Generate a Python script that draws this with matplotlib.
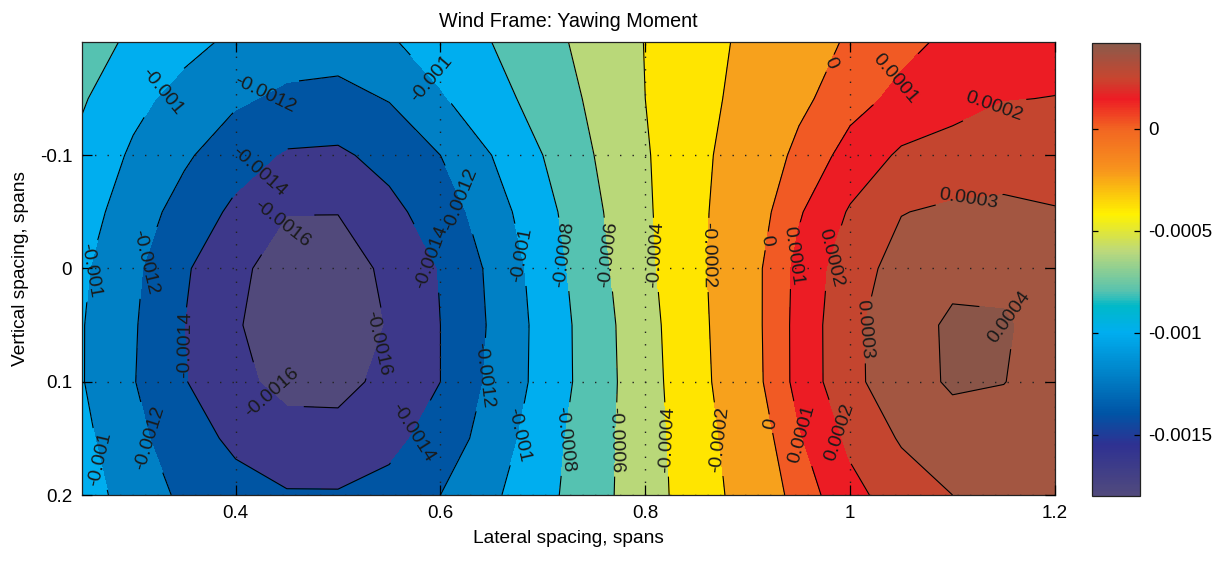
import numpy as np
import matplotlib
matplotlib.use('Agg')
import matplotlib.pyplot as plt
from matplotlib.colors import LinearSegmentedColormap, Normalize
from matplotlib.cm import ScalarMappable
from matplotlib.ticker import FormatStrFormatter

plt.rcParams['font.family'] = ['Liberation Sans', 'DejaVu Sans']

# grid of the measurement (spans)
lateral = [0.25, 0.30, 0.35, 0.40, 0.45, 0.50, 0.55, 0.60, 0.65, 0.70,
           0.75, 0.80, 0.85, 0.90, 0.95, 1.00, 1.05, 1.10, 1.15, 1.20]
vertical = [-0.20, -0.15, -0.10, -0.05, 0.00, 0.05, 0.10, 0.15, 0.20]

# yawing moment, units of 1e-4, one row per vertical spacing
moment_e4 = [
    [-7.5, -8.2, -9.4, -10.4, -11.0, -11.1, -10.2, -9.1, -8.0, -6.7, -5.3, -3.95, -2.74, -1.63, -0.67, 0.17, 0.75, 1.2, 1.5, 1.65],
    [-7.8, -9.45, -10.7, -11.7, -12.4, -12.6, -11.9, -10.2, -8.74, -7.23, -5.63, -4.0, -2.63, -1.4, -0.28, 0.66, 1.24, 1.63, 1.97, 2.02],
    [-8.5, -10.3, -11.7, -13.2, -14.2, -14.3, -13.4, -12.0, -10.0, -8.0, -6.0, -4.18, -2.47, -1.04, 0.3, 1.37, 2.15, 2.4, 2.55, 2.58],
    [-9.2, -10.95, -12.8, -14.4, -15.95, -15.95, -14.5, -13.1, -10.9, -8.67, -6.39, -4.29, -2.4, -0.77, 0.9, 2.1, 2.97, 3.15, 3.2, 3.05],
    [-9.7, -11.6, -13.75, -15.6, -16.8, -16.9, -15.6, -13.9, -11.6, -9.12, -6.71, -4.44, -2.39, -0.51, 1.28, 2.58, 3.35, 3.75, 3.75, 3.45],
    [-9.9, -11.8, -14.0, -15.8, -17.2, -17.3, -15.86, -14.0, -11.76, -9.35, -6.98, -4.68, -2.5, -0.53, 1.34, 2.76, 3.6, 4.15, 4.1, 3.6],
    [-9.9, -11.9, -13.9, -15.5, -16.6, -16.6, -15.46, -14.0, -11.6, -9.36, -7.02, -4.78, -2.6, -0.58, 1.34, 2.74, 3.6, 4.12, 4.02, 3.6],
    [-9.5, -11.45, -13.14, -14.4, -15.2, -15.3, -14.6, -13.1, -11.17, -8.87, -6.84, -4.85, -2.84, -0.93, 0.9, 2.21, 3.1, 3.6, 3.6, 3.4],
    [-9.1, -10.84, -12.4, -13.3, -13.85, -13.85, -13.3, -12.0, -10.35, -8.6, -6.73, -4.87, -3.0, -1.2, 0.46, 1.71, 2.48, 3.0, 3.2, 3.2],
]

levels = [-0.0016, -0.0014, -0.0012, -0.001, -0.0008, -0.0006, -0.0004,
          -0.0002, 0.0, 0.0001, 0.0002, 0.0003, 0.0004]

cbar_ticks = [-0.0015, -0.001, -0.0005, 0.0]
cbar_range = (-0.0018, 0.00042)

# colours of the bands, lowest first
fill_colors = ['#51497b', '#3d388a', '#0055a3', '#0080c5', '#00aeef', '#55c2b1',
               '#b9d879', '#ffe500', '#f7a11c', '#f15a24', '#ec1c24', '#c4452f',
               '#a35641', '#8a5548']

# colour stops of the colorbar
cbar_stops = [(-0.0018, '#514a7d'), (-0.00155, '#2e3192'), (-0.0014, '#0054a5'),
              (-0.0012, '#0083c9'), (-0.001, '#00aeef'), (-0.00087, '#00b9c9'),
              (-0.0008, '#55c2b0'), (-0.0006, '#bcd97b'), (-0.00042, '#fff200'),
              (-0.0002, '#f7941d'), (0.0, '#f26522'), (0.00015, '#ed1c24'),
              (0.00025, '#c8452f'), (0.00042, '#8b5a4b')]

# where the contour labels sit (x, y)
label_spots = [
    (0.33, -0.155), (0.428, -0.155), (0.418, -0.09), (0.45, -0.037),
    (0.593, -0.169), (0.617, -0.06), (0.595, -0.012),
    (0.258, 0.002), (0.31, -0.006), (0.351, 0.067), (0.434, 0.111),
    (0.542, 0.067), (0.566, 0.142), (0.642, 0.094),
    (0.264, 0.169), (0.31, 0.151),
    (0.678, -0.012), (0.678, 0.147),
    (0.717, -0.012), (0.727, 0.151),
    (0.761, -0.012), (0.771, 0.151),
    (0.81, -0.012), (0.82, 0.151),
    (0.859, -0.012), (0.869, 0.151),
    (0.914, -0.025), (0.917, 0.138), (0.974, -0.184),
    (0.942, -0.012), (0.949, 0.147), (1.039, -0.171),
    (0.973, -0.012), (0.981, 0.147), (1.137, -0.149),
    (1.115, -0.069), (1.008, 0.054),
    (1.151, 0.045),
]

Z = np.array(moment_e4) * 1e-4

fig = plt.figure(figsize=(12.25, 5.62), dpi=100)
ax = fig.add_axes([0.0669, 0.1192, 0.7943, 0.8061])

fill_levels = [-1.0] + levels + [1.0]
ax.contourf(lateral, vertical, Z, levels=fill_levels, colors=fill_colors)
cs = ax.contour(lateral, vertical, Z, levels=levels, colors='k', linewidths=0.8,
                linestyles='solid', negative_linestyles='solid')
ax.clabel(cs, manual=label_spots, inline=True, inline_spacing=4,
          fmt=lambda v: f'{v:g}', fontsize=14, colors='#1a1a1a')

ax.set_xlim(0.25, 1.2)
ax.set_ylim(0.2, -0.2)
ax.set_xticks([0.4, 0.6, 0.8, 1.0, 1.2])
ax.set_yticks([-0.1, 0.0, 0.1, 0.2])
ax.xaxis.set_major_formatter(FormatStrFormatter('%g'))
ax.yaxis.set_major_formatter(FormatStrFormatter('%g'))
ax.tick_params(direction='in', top=True, right=True, length=7, width=0.9,
               labelsize=13.5, pad=7)
ax.grid(True, linestyle=(0, (1, 8)), color='#222222', linewidth=1.0)
ax.set_axisbelow(False)
for sp in ax.spines.values():
    sp.set_linewidth(0.9)
    sp.set_color('#222222')

ax.set_title('Wind Frame: Yawing Moment', fontsize=14.2, pad=11)
ax.set_xlabel('Lateral spacing, spans', fontsize=13.8, labelpad=6)
ax.set_ylabel('Vertical spacing, spans', fontsize=13.8, labelpad=8)

# continuous colorbar like the reference
norm = Normalize(vmin=cbar_range[0], vmax=cbar_range[1])
cmap = LinearSegmentedColormap.from_list(
    'yaw', [(norm(v), c) for v, c in cbar_stops])
cax = fig.add_axes([0.8914, 0.1175, 0.0392, 0.806])
cb = fig.colorbar(ScalarMappable(norm=norm, cmap=cmap), cax=cax, ticks=cbar_ticks)
cb.ax.yaxis.set_major_formatter(FormatStrFormatter('%g'))
cb.ax.tick_params(direction='in', left=True, right=True, length=4, width=0.9,
                  labelsize=13.5, pad=6)
cb.outline.set_linewidth(0.9)
cb.outline.set_edgecolor('#222222')

fig.savefig('out.png', dpi=100)
